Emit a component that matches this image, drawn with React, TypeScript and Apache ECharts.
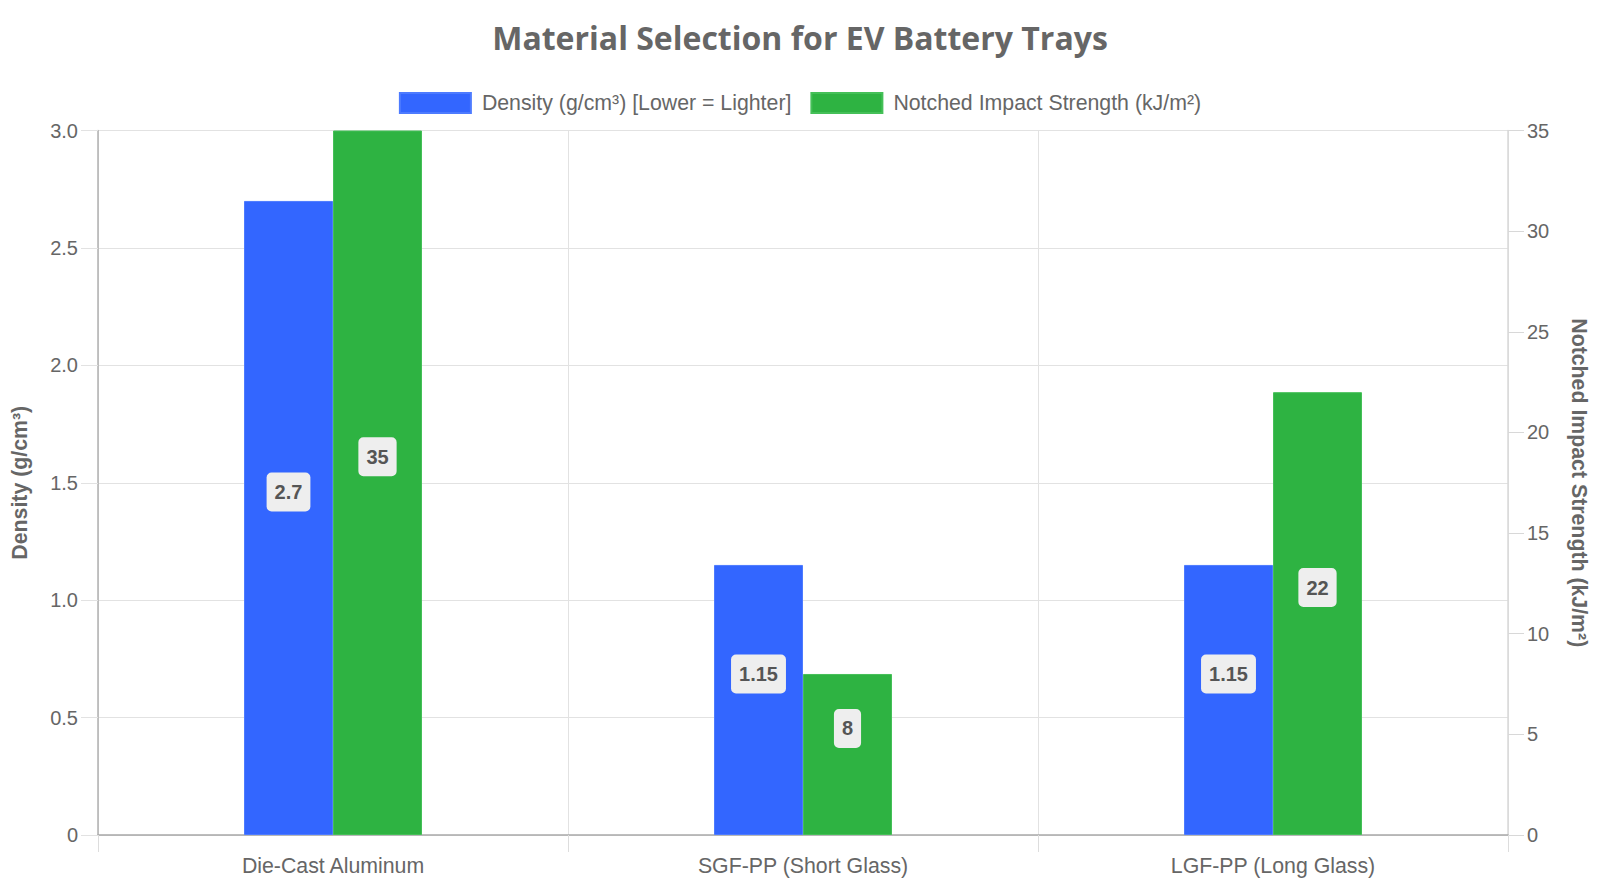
import React, { useEffect, useRef } from "react";
import * as echarts from "echarts";

const categories = ["Die-Cast Aluminum", "SGF-PP (Short Glass)", "LGF-PP (Long Glass)"];
const densityValues = [2.7, 1.15, 1.15];
const impactValues = [35, 8, 22];
const seriesNames = ["Density (g/cm³) [Lower = Lighter]", "Notched Impact Strength (kJ/m²)"];

const FONT = "'Liberation Sans', Arial, Helvetica, sans-serif";
const TXT = "#666666";
const BIG = 21.3;

export default function App() {
  const ref = useRef<HTMLDivElement>(null);
  useEffect(() => {
    if (!ref.current) return;
    const chart = echarts.init(ref.current, null, { renderer: "svg" });
    const labelCfg = {
      show: true,
      position: "inside",
      offset: [0, -26],
      fontFamily: FONT,
      fontSize: 20,
      fontWeight: "bold",
      lineHeight: 20,
      color: "#555555",
      backgroundColor: "#eeeeee",
      borderRadius: 5,
      padding: [10, 8, 9, 8],
    };
    chart.setOption({
      animation: false,
      backgroundColor: "#ffffff",
      textStyle: { fontFamily: FONT },
      title: {
        text: "Material Selection for EV Battery Trays",
        left: "center",
        top: 21,
        padding: 0,
        textStyle: {
          fontFamily: "'Open Sans', sans-serif",
          fontSize: 32,
          fontWeight: "bold",
          color: TXT,
        },
      },
      legend: {
        top: 87,
        left: "center",
        itemWidth: 71,
        itemHeight: 20,
        itemGap: 19,
        icon: "rect",
        textStyle: { fontFamily: FONT, fontSize: BIG, color: TXT, padding: [0, 0, 0, 6] },
        data: seriesNames,
      },
      grid: { left: 98, right: 92, top: 130.5, bottom: 54, containLabel: false },
      xAxis: {
        type: "category",
        data: categories,
        axisLine: { show: true, lineStyle: { color: "#a8a8a8", width: 1.5 } },
        axisTick: { show: true, length: 17, lineStyle: { color: "#dddddd" }, alignWithLabel: false },
        splitLine: { show: true, lineStyle: { color: "#e2e2e2" } },
        axisLabel: { fontFamily: FONT, fontSize: BIG, color: TXT, margin: 20 },
      },
      yAxis: [
        {
          type: "value",
          min: 0,
          max: 3,
          interval: 0.5,
          name: "Density (g/cm³)",
          nameLocation: "middle",
          nameRotate: 90,
          nameGap: 68,
          nameTextStyle: { fontFamily: FONT, fontSize: BIG, fontWeight: "bold", color: TXT },
          axisLine: { show: true, lineStyle: { color: "#b0b0b0", width: 1.5 } },
          axisTick: { show: true, length: 17, lineStyle: { color: "#e2e2e2" } },
          splitLine: { show: true, lineStyle: { color: "#e2e2e2" } },
          axisLabel: {
            fontFamily: FONT,
            fontSize: 20,
            color: TXT,
            margin: 20,
            formatter: (v: number) => (v === 0 ? "0" : v.toFixed(1)),
          },
        },
        {
          type: "value",
          min: 0,
          max: 35,
          interval: 5,
          position: "right",
          name: "Notched Impact Strength (kJ/m²)",
          nameLocation: "middle",
          nameRotate: -90,
          nameGap: 60,
          nameTextStyle: { fontFamily: FONT, fontSize: BIG, fontWeight: "bold", color: TXT },
          axisLine: { show: true, lineStyle: { color: "#d8d8d8", width: 1.5 } },
          axisTick: { show: true, length: 16, lineStyle: { color: "#d8d8d8" } },
          splitLine: { show: false },
          axisLabel: { fontFamily: FONT, fontSize: 20, color: TXT, margin: 19 },
        },
      ],
      series: [
        {
          name: seriesNames[0],
          type: "bar",
          yAxisIndex: 0,
          data: densityValues,
          barWidth: 89,
          barGap: "0%",
          itemStyle: { color: "#3366ff", borderColor: "#4d7bff", borderWidth: 1 },
          label: labelCfg,
        },
        {
          name: seriesNames[1],
          type: "bar",
          yAxisIndex: 1,
          data: impactValues,
          barWidth: 89,
          barGap: "0%",
          itemStyle: { color: "#2eb342", borderColor: "#45c058", borderWidth: 1 },
          label: labelCfg,
        },
      ],
    });
    return () => chart.dispose();
  }, []);
  return <div ref={ref} style={{ width: 1600, height: 889, position: "absolute", left: 0, top: 0 }} />;
}
